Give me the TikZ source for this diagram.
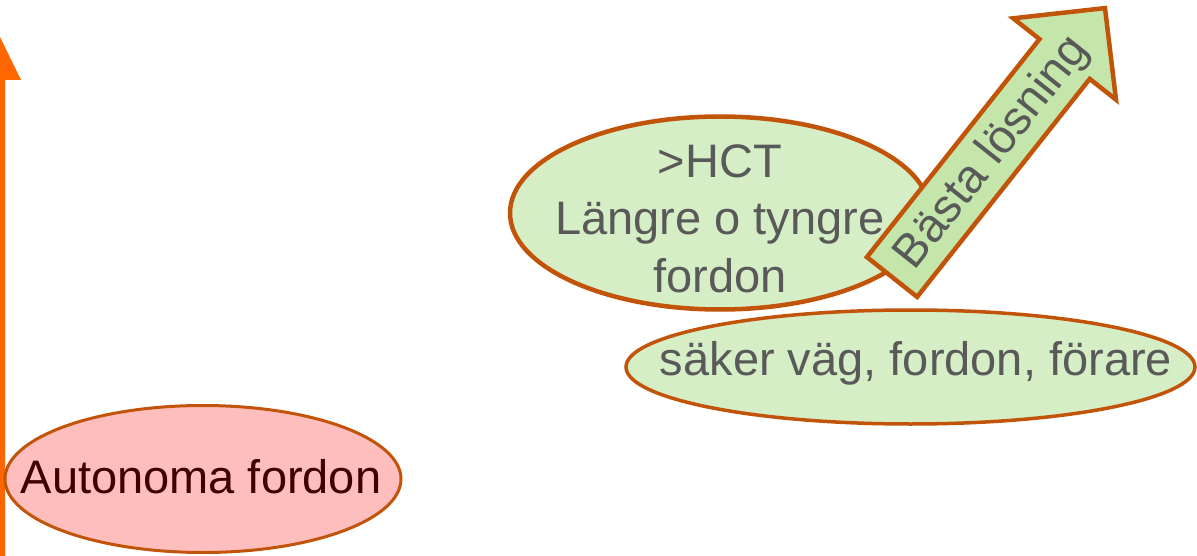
\documentclass[tikz,border=0pt]{standalone}
\usepackage{fontspec}
\setmainfont{Liberation Sans}
\usetikzlibrary{shapes.geometric}
\definecolor{bord}{RGB}{194,84,10}
\definecolor{gfill}{RGB}{213,238,197}
\definecolor{afill}{RGB}{196,230,170}
\definecolor{gtext}{RGB}{89,89,89}
\definecolor{pfill}{RGB}{255,190,190}
\definecolor{ptext}{RGB}{64,0,0}
\definecolor{orangeax}{RGB}{255,102,0}
\begin{document}
\begin{tikzpicture}[x=1pt,y=-1pt,
  bigtext/.style={font=\fontsize{47}{57.5}\selectfont, inner sep=0pt},
  greenell/.style={ellipse, draw=bord, fill=gfill, inner sep=0pt},
  pinkell/.style={ellipse, draw=bord, fill=pfill, inner sep=0pt},
  bigarrow/.style={draw=bord, fill=afill, line width=4.5pt, line join=miter},
  axis/.style={fill=orangeax, draw=none}]
\useasboundingbox (0,0) rectangle (1197,556);
\clip (0,0) rectangle (1197,556);
% vertical axis arrow
\fill[axis] (-5,556) -- (-5,80) -- (-21,80) -- (0,37) -- (21,80) -- (5,80) -- (5,556) -- cycle;
% Autonoma fordon
\node[pinkell, line width=3pt, minimum width=396, minimum height=147] (auto) at (203,479) {};
\node[bigtext, text=ptext, anchor=base] (autotext) at (201,493) {Autonoma fordon};
% HCT ellipse
\node[greenell, line width=4.5pt, minimum width=420, minimum height=193] (hct) at (720,213) {};
\node[bigtext, text=gtext, align=center] (hcttext) at (720,218.6)
  {>HCT\\Längre o tyngre\\fordon};
% saker ellipse
\node[greenell, line width=3.5pt, minimum width=569, minimum height=114] (saker) at (910.5,367) {};
\node[bigtext, text=gtext, anchor=base] (sakertext) at (916,375) {säker väg, fordon, förare};
% best solution arrow
\draw[bigarrow] (866.9,257.1) coordinate (tl) -- (1039.5,39.1) -- (1013.2,18.3)
  -- (1105,8.1) coordinate (tip) -- (1116,99.7) -- (1089.7,78.9) -- (917.1,296.9) -- cycle;
\node[bigtext, text=gtext, rotate=51.6] (basta) at (993,153) {Bästa lösning};
\end{tikzpicture}
\end{document}
